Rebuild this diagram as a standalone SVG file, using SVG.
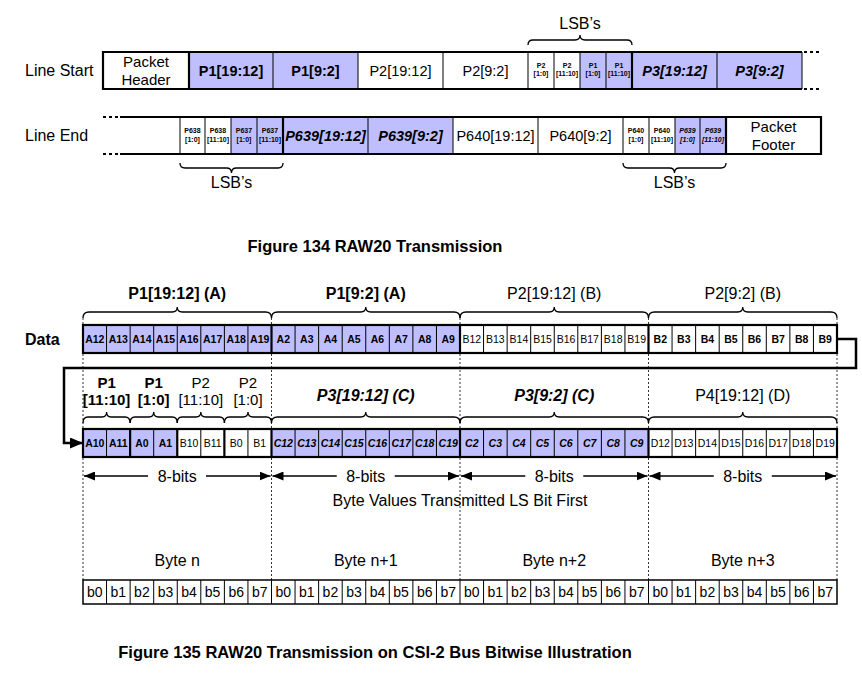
<svg xmlns="http://www.w3.org/2000/svg" width="862" height="678" viewBox="0 0 862 678">
<style>
text{font-family:"Liberation Sans",Arial,sans-serif;fill:#000;text-anchor:middle}
.lbl{font-size:16px;text-anchor:start}
.cell{font-size:14.5px}
.b{font-weight:bold}
.bi{font-weight:bold;font-style:italic}
.tiny{font-size:7px;font-weight:bold}
.dc{font-size:10.5px}
.br{fill:none;stroke:#000;stroke-width:1.3}
.thin{fill:none;stroke:#000;stroke-width:1}
.thick{fill:none;stroke:#000;stroke-width:2.2}
.dots{fill:none;stroke:#000;stroke-width:2;stroke-dasharray:3,3}
.vd{fill:none;stroke:#333;stroke-width:1;stroke-dasharray:2,2}
.pu{fill:#BFBFFF}
.wh{fill:#fff}
.cap{font-size:16.5px;font-weight:bold}
</style>
<defs>
<marker id="ah" markerUnits="userSpaceOnUse" markerWidth="11" markerHeight="9" viewBox="0 0 11 9" refX="11" refY="4.5" orient="auto-start-reverse"><path d="M0,0 L11,4.5 L0,9 Z" fill="#000"/></marker>
<marker id="ahb" markerUnits="userSpaceOnUse" markerWidth="13" markerHeight="11" viewBox="0 0 13 11" refX="13" refY="5.5" orient="auto"><path d="M0,0 L13,5.5 L0,11 Z" fill="#000"/></marker>
</defs>
<rect width="862" height="678" fill="#fff"/>

<!-- Figure 134 -->
<text class="lbl" x="25" y="76">Line Start</text>
<text class="lbl" x="25" y="141">Line End</text>

<g id="line-start">
<rect class="wh" x="103" y="52" width="86" height="37"/>
<rect class="pu" x="189" y="52" width="169" height="37"/>
<rect class="wh" x="358" y="52" width="222" height="37"/>
<rect class="pu" x="580" y="52" width="222" height="37"/>
<path class="thin" d="M273,52V89M358,52V89M443,52V89M528,52V89M554,52V89M580,52V89M606,52V89M717,52V89M802,52V89"/>
<path class="thick" d="M189,52V89M632,52V89M802,52H103V89H802"/>
<path class="dots" d="M804,52H822M804,89H822"/>
<text x="146" y="67" style="font-size:15px">Packet</text>
<text x="146" y="85" style="font-size:15px">Header</text>
<text class="cell b" x="231" y="76">P1[19:12]</text>
<text class="cell b" x="315.5" y="76">P1[9:2]</text>
<text class="cell" x="400.5" y="76">P2[19:12]</text>
<text class="cell" x="485.5" y="76">P2[9:2]</text>
<text class="tiny" x="541" y="67.5">P2</text><text class="tiny" x="541" y="76">[1:0]</text>
<text class="tiny" x="567" y="67.5">P2</text><text class="tiny" x="567" y="76">[11:10]</text>
<text class="tiny" x="593" y="67.5">P1</text><text class="tiny" x="593" y="76">[1:0]</text>
<text class="tiny" x="619" y="67.5">P1</text><text class="tiny" x="619" y="76">[11:10]</text>
<text class="cell bi" x="674.5" y="76">P3[19:12]</text>
<text class="cell bi" x="759.5" y="76">P3[9:2]</text>
</g>
<g id="lsb-top">
<path class="br" d="M528,45 Q528,40 533,40 H575 Q580,40 580,35 Q580,40 585,40 H627 Q632,40 632,45"/>
<text x="580" y="29" style="font-size:16px">LSB’s</text>
</g>

<g id="line-end">
<rect class="wh" x="120" y="117" width="111" height="37"/>
<rect class="pu" x="231" y="117" width="222" height="37"/>
<rect class="wh" x="453" y="117" width="222" height="37"/>
<rect class="pu" x="675" y="117" width="51" height="37"/>
<rect class="wh" x="726" y="117" width="95" height="37"/>
<path class="thin" d="M180,117V154M205,117V154M231,117V154M257,117V154M368,117V154M453,117V154M538,117V154M623,117V154M649,117V154M675,117V154M700,117V154"/>
<path class="thick" d="M283,117V154M726,117V154M120,117H821V154H120"/>
<path class="dots" d="M103,117H119M103,154H119"/>
<text class="tiny" x="192.5" y="133">P638</text><text class="tiny" x="192.5" y="142">[1:0]</text>
<text class="tiny" x="218" y="133">P638</text><text class="tiny" x="218" y="142">[11:10]</text>
<text class="tiny" x="244" y="133">P637</text><text class="tiny" x="244" y="142">[1:0]</text>
<text class="tiny" x="270" y="133">P637</text><text class="tiny" x="270" y="142">[11:10]</text>
<text class="cell bi" x="325.5" y="141">P639[19:12]</text>
<text class="cell bi" x="410.5" y="141">P639[9:2]</text>
<text class="cell" x="495.5" y="141">P640[19:12]</text>
<text class="cell" x="580.5" y="141">P640[9:2]</text>
<text class="tiny" x="636" y="133">P640</text><text class="tiny" x="636" y="142">[1:0]</text>
<text class="tiny" x="662" y="133">P640</text><text class="tiny" x="662" y="142">[11:10]</text>
<text class="tiny" x="687.5" y="133" style="font-style:italic">P639</text><text class="tiny" x="687.5" y="142" style="font-style:italic">[1:0]</text>
<text class="tiny" x="713" y="133" style="font-style:italic">P639</text><text class="tiny" x="713" y="142" style="font-style:italic">[11:10]</text>
<text x="773.5" y="132" style="font-size:15px">Packet</text>
<text x="773.5" y="150" style="font-size:15px">Footer</text>
</g>
<g id="lsb-end">
<path class="br" d="M180,163 Q180,168 185,168 H226.5 Q231.5,168 231.5,173 Q231.5,168 236.5,168 H278 Q283,168 283,163"/>
<text x="231.5" y="188" style="font-size:16px">LSB’s</text>
<path class="br" d="M623,163 Q623,168 628,168 H669.5 Q674.5,168 674.5,173 Q674.5,168 679.5,168 H721 Q726,168 726,163"/>
<text x="674.5" y="188" style="font-size:16px">LSB’s</text>
</g>

<text class="cap" x="375" y="252">Figure 134 RAW20 Transmission</text>

<!-- Figure 135 -->
<path class="vd" d="M83,318V580M271.5,318V580M460,318V580M648.5,318V580M837,318V580"/>

<text class="lbl b" x="25" y="345">Data</text>

<g id="data-braces">
<path class="br" d="M83,318 Q83,312 89,312 H172.25 Q177.25,312 177.25,307 Q177.25,312 182.25,312 H265.5 Q271.5,312 271.5,318"/>
<path class="br" d="M271.5,318 Q271.5,312 277.5,312 H360.75 Q365.75,312 365.75,307 Q365.75,312 370.75,312 H454 Q460,312 460,318"/>
<path class="br" d="M460,318 Q460,312 466,312 H549.25 Q554.25,312 554.25,307 Q554.25,312 559.25,312 H642.5 Q648.5,312 648.5,318"/>
<path class="br" d="M648.5,318 Q648.5,312 654.5,312 H737.75 Q742.75,312 742.75,307 Q742.75,312 747.75,312 H831 Q837,312 837,318"/>
<text class="b" x="177.25" y="299" style="font-size:16px">P1[19:12] (A)</text>
<text class="b" x="365.75" y="299" style="font-size:16px">P1[9:2] (A)</text>
<text x="554.25" y="299" style="font-size:16px">P2[19:12] (B)</text>
<text x="742.75" y="299" style="font-size:16px">P2[9:2] (B)</text>
</g>

<g id="data-row">
<rect class="pu" x="83" y="325" width="377" height="28"/>
<rect class="wh" x="460" y="325" width="377" height="28"/>
<path class="thin" d="M106.56,325V353M130.13,325V353M153.69,325V353M177.25,325V353M200.81,325V353M224.38,325V353M247.94,325V353M295.06,325V353M318.63,325V353M342.19,325V353M365.75,325V353M389.31,325V353M412.88,325V353M436.44,325V353M483.56,325V353M507.13,325V353M530.69,325V353M554.25,325V353M577.81,325V353M601.38,325V353M624.94,325V353M672.06,325V353M695.63,325V353M719.19,325V353M742.75,325V353M766.31,325V353M789.88,325V353M813.44,325V353"/>
<path class="thick" d="M271.5,325V353M460,325V353M648.5,325V353"/>
<rect x="83" y="325" width="754" height="28" class="thick"/>
<g class="dc b">
<text x="94.8" y="343">A12</text><text x="118.3" y="343">A13</text><text x="141.9" y="343">A14</text><text x="165.5" y="343">A15</text><text x="189" y="343">A16</text><text x="212.6" y="343">A17</text><text x="236.2" y="343">A18</text><text x="259.7" y="343">A19</text>
<text x="283.3" y="343">A2</text><text x="306.8" y="343">A3</text><text x="330.4" y="343">A4</text><text x="354" y="343">A5</text><text x="377.5" y="343">A6</text><text x="401.1" y="343">A7</text><text x="424.7" y="343">A8</text><text x="448.2" y="343">A9</text>
</g>
<g class="dc">
<text x="471.8" y="343">B12</text><text x="495.3" y="343">B13</text><text x="518.9" y="343">B14</text><text x="542.5" y="343">B15</text><text x="566" y="343">B16</text><text x="589.6" y="343">B17</text><text x="613.2" y="343">B18</text><text x="636.7" y="343">B19</text>
</g>
<g class="dc b">
<text x="660.3" y="343">B2</text><text x="683.8" y="343">B3</text><text x="707.4" y="343">B4</text><text x="731" y="343">B5</text><text x="754.5" y="343">B6</text><text x="778.1" y="343">B7</text><text x="801.7" y="343">B8</text><text x="825.2" y="343">B9</text>
</g>
</g>

<g id="connectors">
<path d="M838,339 H856 V368 H64 V443 H83" fill="none" stroke="#000" stroke-width="2.5" marker-end="url(#ahb)"/>
<g stroke="#000" stroke-width="1.5" fill="none">
<path d="M148,476 H84" marker-end="url(#ah)"/><path d="M206,476 H270.5" marker-end="url(#ah)"/>
<path d="M336.75,476 H272.5" marker-end="url(#ah)"/><path d="M394.75,476 H459" marker-end="url(#ah)"/>
<path d="M525.25,476 H461" marker-end="url(#ah)"/><path d="M583.25,476 H647.5" marker-end="url(#ah)"/>
<path d="M713.75,476 H649.5" marker-end="url(#ah)"/><path d="M771.75,476 H836" marker-end="url(#ah)"/>
</g>
</g>

<g id="row2-braces">
<path class="br" d="M83,423 Q83,417 88,417 H102 Q106.6,417 106.6,412 Q106.6,417 111,417 H125 Q130.1,417 130.1,423"/>
<path class="br" d="M130.1,423 Q130.1,417 135,417 H149 Q153.7,417 153.7,412 Q153.7,417 158.5,417 H172.25 Q177.25,417 177.25,423"/>
<path class="br" d="M177.25,423 Q177.25,417 182,417 H196 Q200.8,417 200.8,412 Q200.8,417 205.6,417 H219.4 Q224.4,417 224.4,423"/>
<path class="br" d="M224.4,423 Q224.4,417 229.4,417 H243 Q248,417 248,412 Q248,417 253,417 H266.5 Q271.5,417 271.5,423"/>
<path class="br" d="M271.5,423 Q271.5,417 277.5,417 H360.75 Q365.75,417 365.75,412 Q365.75,417 370.75,417 H454 Q460,417 460,423"/>
<path class="br" d="M460,423 Q460,417 466,417 H549.25 Q554.25,417 554.25,412 Q554.25,417 559.25,417 H642.5 Q648.5,417 648.5,423"/>
<path class="br" d="M648.5,423 Q648.5,417 654.5,417 H737.75 Q742.75,417 742.75,412 Q742.75,417 747.75,417 H831 Q837,417 837,423"/>
<g style="font-size:15px">
<text class="b" x="106.6" y="388">P1</text><text class="b" x="106.6" y="405">[11:10]</text>
<text class="b" x="153.7" y="388">P1</text><text class="b" x="153.7" y="405">[1:0]</text>
<text x="200.8" y="388">P2</text><text x="200.8" y="405">[11:10]</text>
<text x="248" y="388">P2</text><text x="248" y="405">[1:0]</text>
</g>
<text class="bi" x="365.75" y="401" style="font-size:16px">P3[19:12] (C)</text>
<text class="bi" x="554.25" y="401" style="font-size:16px">P3[9:2] (C)</text>
<text x="742.75" y="401" style="font-size:16px">P4[19:12] (D)</text>
</g>

<g id="row2">
<rect class="pu" x="83" y="429" width="94.25" height="28"/>
<rect class="wh" x="177.25" y="429" width="94.25" height="28"/>
<rect class="pu" x="271.5" y="429" width="377" height="28"/>
<rect class="wh" x="648.5" y="429" width="188.5" height="28"/>
<path class="thin" d="M106.56,429V457M153.69,429V457M200.81,429V457M247.94,429V457M295.06,429V457M318.63,429V457M342.19,429V457M365.75,429V457M389.31,429V457M412.88,429V457M436.44,429V457M483.56,429V457M507.13,429V457M530.69,429V457M554.25,429V457M577.81,429V457M601.38,429V457M624.94,429V457M672.06,429V457M695.63,429V457M719.19,429V457M742.75,429V457M766.31,429V457M789.88,429V457M813.44,429V457"/>
<path class="thick" d="M130.13,429V457M177.25,429V457M224.38,429V457M271.5,429V457M460,429V457M648.5,429V457"/>
<rect x="83" y="429" width="754" height="28" class="thick"/>
<g class="dc b">
<text x="94.8" y="447">A10</text><text x="118.3" y="447">A11</text><text x="141.9" y="447">A0</text><text x="165.5" y="447">A1</text>
</g>
<g class="dc">
<text x="189" y="447">B10</text><text x="212.6" y="447">B11</text><text x="236.2" y="447">B0</text><text x="259.7" y="447">B1</text>
</g>
<g class="dc bi">
<text x="283.3" y="447">C12</text><text x="306.8" y="447">C13</text><text x="330.4" y="447">C14</text><text x="354" y="447">C15</text><text x="377.5" y="447">C16</text><text x="401.1" y="447">C17</text><text x="424.7" y="447">C18</text><text x="448.2" y="447">C19</text>
<text x="471.8" y="447">C2</text><text x="495.3" y="447">C3</text><text x="518.9" y="447">C4</text><text x="542.5" y="447">C5</text><text x="566" y="447">C6</text><text x="589.6" y="447">C7</text><text x="613.2" y="447">C8</text><text x="636.7" y="447">C9</text>
</g>
<g class="dc">
<text x="660.3" y="447">D12</text><text x="683.8" y="447">D13</text><text x="707.4" y="447">D14</text><text x="731" y="447">D15</text><text x="754.5" y="447">D16</text><text x="778.1" y="447">D17</text><text x="801.7" y="447">D18</text><text x="825.2" y="447">D19</text>
</g>
</g>

<g id="bits-labels" style="font-size:16px">
<text x="177.25" y="482">8-bits</text><text x="365.75" y="482">8-bits</text><text x="554.25" y="482">8-bits</text><text x="742.75" y="482">8-bits</text>
<text x="460" y="506">Byte Values Transmitted LS Bit First</text>
<text x="177.25" y="566">Byte n</text><text x="365.75" y="566">Byte n+1</text><text x="554.25" y="566">Byte n+2</text><text x="742.75" y="566">Byte n+3</text>
</g>

<g id="byte-row">
<rect class="wh" x="83" y="580" width="754" height="24"/>
<path class="thin" d="M106.56,580V604M130.13,580V604M153.69,580V604M177.25,580V604M200.81,580V604M224.38,580V604M247.94,580V604M271.5,580V604M295.06,580V604M318.63,580V604M342.19,580V604M365.75,580V604M389.31,580V604M412.88,580V604M436.44,580V604M460,580V604M483.56,580V604M507.13,580V604M530.69,580V604M554.25,580V604M577.81,580V604M601.38,580V604M624.94,580V604M648.5,580V604M672.06,580V604M695.63,580V604M719.19,580V604M742.75,580V604M766.31,580V604M789.88,580V604M813.44,580V604"/>
<rect x="83" y="580" width="754" height="24" fill="none" stroke="#000" stroke-width="1.5"/>
<g style="font-size:14px">
<text x="94.8" y="597">b0</text><text x="118.3" y="597">b1</text><text x="141.9" y="597">b2</text><text x="165.5" y="597">b3</text><text x="189" y="597">b4</text><text x="212.6" y="597">b5</text><text x="236.2" y="597">b6</text><text x="259.7" y="597">b7</text>
<text x="283.3" y="597">b0</text><text x="306.8" y="597">b1</text><text x="330.4" y="597">b2</text><text x="354" y="597">b3</text><text x="377.5" y="597">b4</text><text x="401.1" y="597">b5</text><text x="424.7" y="597">b6</text><text x="448.2" y="597">b7</text>
<text x="471.8" y="597">b0</text><text x="495.3" y="597">b1</text><text x="518.9" y="597">b2</text><text x="542.5" y="597">b3</text><text x="566" y="597">b4</text><text x="589.6" y="597">b5</text><text x="613.2" y="597">b6</text><text x="636.7" y="597">b7</text>
<text x="660.3" y="597">b0</text><text x="683.8" y="597">b1</text><text x="707.4" y="597">b2</text><text x="731" y="597">b3</text><text x="754.5" y="597">b4</text><text x="778.1" y="597">b5</text><text x="801.7" y="597">b6</text><text x="825.2" y="597">b7</text>
</g>
</g>

<text class="cap" x="375" y="658">Figure 135 RAW20 Transmission on CSI-2 Bus Bitwise Illustration</text>
</svg>
